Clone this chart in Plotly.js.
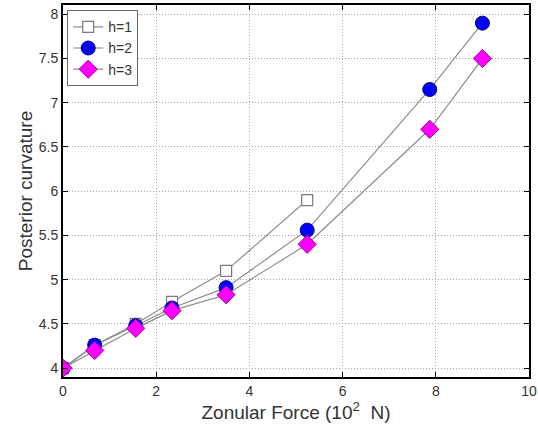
<!DOCTYPE html>
<html><head><meta charset="utf-8">
<script src="https://cdn.plot.ly/plotly-3.0.1.min.js"></script>
<style>html,body{margin:0;padding:0;background:#fff}#c{width:538px;height:430px}</style>
</head><body><div id="c"></div>
<script>
const xForce = [0, 0.68, 1.56, 2.34, 3.5, 5.24, 7.87, 9.0];
const h1 = [4.0, 4.26, 4.5, 4.75, 5.1, 5.9];
const h2 = [4.0, 4.26, 4.48, 4.68, 4.91, 5.56, 7.15, 7.9];
const h3 = [4.0, 4.2, 4.45, 4.65, 4.83, 5.4, 6.7, 7.5];
const names = ['h=1', 'h=2', 'h=3'];
const xTicks = [0, 2, 4, 6, 8, 10];
const yTicks = [4, 4.5, 5, 5.5, 6, 6.5, 7, 7.5, 8];

const FONT = 'Liberation Sans, Arial, Helvetica, sans-serif';
const lineStyle = {color: '#8c8c8c', width: 1.2};
const traces = [
  {x: xForce.slice(0, h1.length), y: h1, name: names[0], mode: 'lines+markers', line: lineStyle,
   marker: {symbol: 'square', size: 11, color: '#ffffff', line: {color: '#7a7a7a', width: 1.2}}},
  {x: xForce, y: h2, name: names[1], mode: 'lines+markers', line: lineStyle,
   marker: {symbol: 'circle', size: 14, color: '#0000ff', line: {color: '#00007a', width: 1}}},
  {x: xForce, y: h3, name: names[2], mode: 'lines+markers', line: lineStyle,
   marker: {symbol: 'diamond', size: 14, color: '#ff00ff', line: {color: '#a000a0', width: 1}}}
];

const axisCommon = {
  showline: true, linecolor: '#000', linewidth: 2, mirror: 'ticks',
  ticks: 'inside', ticklen: 5, tickcolor: '#000', tickwidth: 1,
  showgrid: true, gridcolor: '#a8a8a8', griddash: '1px,2px', gridwidth: 1,
  zeroline: false, tickfont: {family: FONT, size: 14, color: '#333'}
};

const layout = {
  width: 538, height: 430,
  margin: {l: 63, r: 9, t: 5, b: 53},
  paper_bgcolor: '#fff', plot_bgcolor: '#fff',
  showlegend: true,
  legend: {x: 0.009, y: 0.986, xanchor: 'left', yanchor: 'top', bgcolor: '#fff',
    bordercolor: '#666', borderwidth: 1, tracegroupgap: 0,
    entrywidth: 62, entrywidthmode: 'pixels',
    font: {family: FONT, size: 14, color: '#333'}},
  xaxis: Object.assign({}, axisCommon, {range: [0, 10], tickmode: 'array', tickvals: xTicks,
    title: {text: 'Zonular Force (10<sup>2</sup>  N)', standoff: 6,
      font: {family: FONT, size: 19, color: '#333'}}}),
  yaxis: Object.assign({}, axisCommon, {range: [3.9, 8.105], tickmode: 'array', tickvals: yTicks,
    title: {text: 'Posterior curvature', standoff: 1,
      font: {family: FONT, size: 19, color: '#333'}}})
};

Plotly.newPlot('c', traces, layout, {displayModeBar: false, staticPlot: true});
</script></body></html>
